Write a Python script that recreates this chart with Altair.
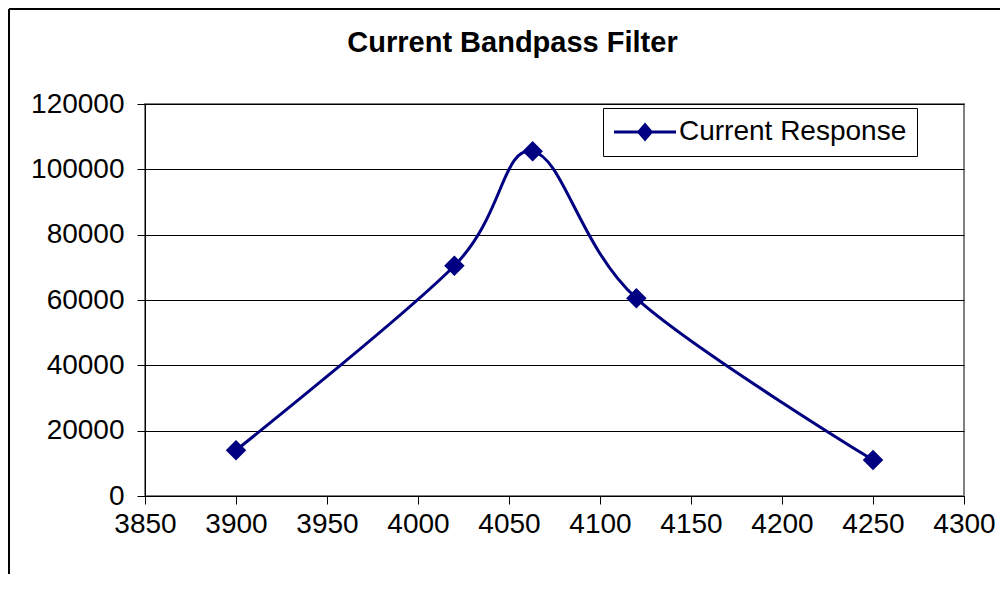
import altair as alt
import pandas as pd

frequency = [3900, 4020, 4063, 4120, 4250]
response = [14000, 70500, 105500, 60500, 11000]
series = ["Current Response"] * len(frequency)
x_ticks = [3850, 3900, 3950, 4000, 4050, 4100, 4150, 4200, 4250, 4300]
y_ticks = [0, 20000, 40000, 60000, 80000, 100000, 120000]

df = pd.DataFrame({"f": frequency, "r": response, "s": series})

NAVY = "#000080"
FONT = "Liberation Sans"

x_enc = alt.X("f:Q", scale=alt.Scale(domain=[3850, 4300], nice=False, zero=False),
              axis=alt.Axis(values=x_ticks, format="d", grid=False, title=None,
                            labelPadding=6, labelOverlap=False, labelFlush=False))
y_enc = alt.Y("r:Q", scale=alt.Scale(domain=[0, 120000], nice=False),
              axis=alt.Axis(values=y_ticks, format="d", grid=True, title=None,
                            labelPadding=13, labelOverlap=False, labelFlush=False))

line = alt.Chart(df).mark_line(interpolate="cardinal", strokeWidth=3).encode(
    x=x_enc, y=y_enc,
    color=alt.Color("s:N", scale=alt.Scale(range=[NAVY]),
                    legend=alt.Legend(
                        title=None, orient="none", legendX=458, legendY=4,
                        symbolType="M-3.1,0L3.1,0M0,-0.72L0.62,0L0,0.72L-0.62,0Z",
                        symbolSize=400, symbolStrokeWidth=3, symbolOffset=18,
                        symbolFillColor=NAVY, symbolStrokeColor=NAVY,
                        labelFontSize=28, labelFont=FONT, labelColor="black",
                        labelOffset=20, padding=10, strokeColor="black",
                        fillColor="white", labelLimit=400)),
)

points = alt.Chart(df).mark_point(shape="diamond", filled=True, size=420,
                                  color=NAVY, opacity=1).encode(x=x_enc, y=y_enc)

border_left = alt.Chart(df).mark_rule(color="black", strokeWidth=2).encode(
    x=alt.value(-136), y=alt.value(-95), y2=alt.value(470))
border_top = alt.Chart(df).mark_rule(color="black", strokeWidth=2).encode(
    x=alt.value(-136), x2=alt.value(855), y=alt.value(-95))

chart = alt.layer(border_left, border_top, line, points).properties(
    width=819, height=392,
    autosize=alt.AutoSizeParams(type="none"),
    padding={"left": 137, "top": 96, "right": 36, "bottom": 80},
    background="white",
    title=alt.TitleParams("Current Bandpass Filter", font=FONT, fontSize=29,
                          fontWeight="bold", color="black", dx=-42, offset=0,
                          dy=50),
).configure_view(
    stroke="#808080", strokeWidth=2
).configure_axis(
    labelFont=FONT, labelFontSize=28, labelColor="black",
    domainColor="black", domainWidth=1, tickColor="black", tickSize=8,
    tickWidth=1, gridColor="black", gridWidth=1, gridOpacity=1,
)

chart.save("out.html", embed_options={"renderer": "svg", "actions": False})
